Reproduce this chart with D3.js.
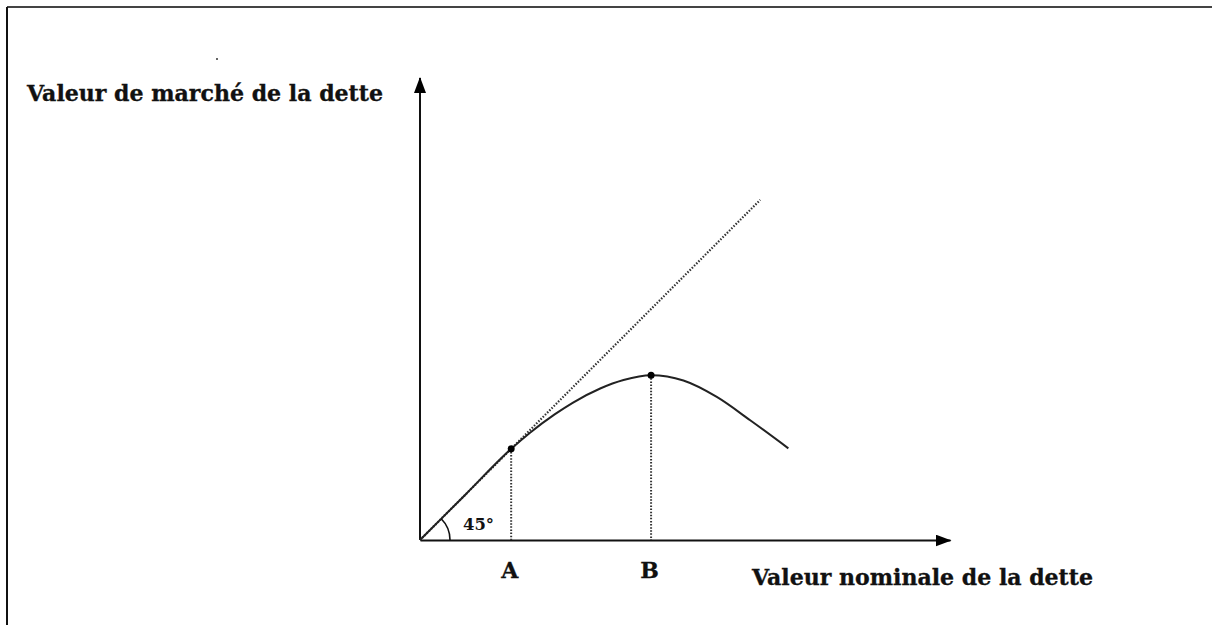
<!DOCTYPE html>
<html><head><meta charset="utf-8">
<script src="https://cdn.jsdelivr.net/npm/d3@7"></script>
<style>
html,body{margin:0;padding:0;background:#fff;}
svg{display:block;}
text{font-family:"DejaVu Serif",serif;font-weight:bold;fill:#111;}
</style></head>
<body>
<svg id="c" width="1212" height="625"></svg>
<script>
// ---- data (arbitrary units of nominal / market value) ----
const curveX = [0, 8.6, 17.2, 20.7, 25.4, 28.8, 34.0, 38.4, 43.6, 49.7, 56.0, 62.3, 69.5];
const curveY = [0, 8.6, 17.2, 20.2, 23.7, 25.9, 28.6, 30.2, 31.1, 30.1, 27.0, 22.6, 17.3];
const diagonal = [0, 64.2];           // 45° line, x = y
const pointNames = ["A", "B"];
const pointX = [17.2, 43.6];
const pointY = [17.2, 31.1];
const yTitle = "Valeur de marché de la dette";
const xTitle = "Valeur nominale de la dette";
const angleLabel = "45°";

const svg = d3.select("#c");
const x = d3.scaleLinear().domain([0, 100]).range([420, 950]);
const y = d3.scaleLinear().domain([0, 87.2]).range([540, 78]);

// frame
svg.append("line").attr("x1", 7).attr("y1", 7).attr("x2", 1212).attr("y2", 7)
  .attr("stroke", "#444").attr("stroke-width", 2);
svg.append("line").attr("x1", 7).attr("y1", 7).attr("x2", 7).attr("y2", 625)
  .attr("stroke", "#111").attr("stroke-width", 2);
svg.append("circle").attr("cx", 217).attr("cy", 59).attr("r", 1).attr("fill", "#333");

// arrow marker
const defs = svg.append("defs");
defs.append("marker").attr("id", "arr").attr("viewBox", "0 0 16 12")
  .attr("refX", 15).attr("refY", 6).attr("markerWidth", 16).attr("markerHeight", 12)
  .attr("markerUnits", "userSpaceOnUse").attr("orient", "auto")
  .append("path").attr("d", "M0,0L16,6L0,12Z").attr("fill", "#000");

// x axis via d3.axisBottom with A and B as tick labels
const xAxis = d3.axisBottom(x).tickValues(pointX).tickFormat((d, i) => pointNames[i])
  .tickSize(0).tickSizeOuter(0).tickPadding(22);
const gx = svg.append("g").attr("transform", `translate(0,${y(0)})`).call(xAxis);
gx.select(".domain").attr("stroke", "#111").attr("stroke-width", 2).attr("marker-end", "url(#arr)");
gx.selectAll(".tick text").attr("font-size", 22).attr("font-family", "DejaVu Serif")
  .attr("font-weight", "bold").attr("fill", "#111").attr("stroke", "#111").attr("stroke-width", 0.3)
  .attr("dx", -2);

// y axis
const yAxis = d3.axisLeft(y).tickValues([]).tickSize(0).tickSizeOuter(0);
const gy = svg.append("g").attr("transform", `translate(${x(0)},0)`).call(yAxis);
gy.select(".domain").attr("d", `M0,${y(0)}V${y(87.2)}`)
  .attr("stroke", "#111").attr("stroke-width", 2).attr("marker-end", "url(#arr)");

// 45° dotted line
svg.append("line")
  .attr("x1", x(diagonal[0])).attr("y1", y(diagonal[0]))
  .attr("x2", x(diagonal[1])).attr("y2", y(diagonal[1]))
  .attr("stroke", "#333").attr("stroke-width", 2.2).attr("stroke-dasharray", "1.5,1.6");

// curve
const line = d3.line().x(d => x(d[0])).y(d => y(d[1])).curve(d3.curveMonotoneX);
svg.append("path").datum(curveX.map((v, i) => [v, curveY[i]]))
  .attr("d", line).attr("fill", "none").attr("stroke", "#222").attr("stroke-width", 2);

// vertical dotted drops and points
pointX.forEach((px, i) => {
  svg.append("line").attr("x1", x(px)).attr("x2", x(px))
    .attr("y1", y(pointY[i])).attr("y2", y(0))
    .attr("stroke", "#333").attr("stroke-width", 2).attr("stroke-dasharray", "1.5,1.6");
  svg.append("circle").attr("cx", x(px)).attr("cy", y(pointY[i])).attr("r", 3.5).attr("fill", "#000");
});

// 45° arc
const arc = d3.arc().innerRadius(30).outerRadius(30).startAngle(Math.PI / 4).endAngle(Math.PI / 2);
svg.append("path").attr("d", arc()).attr("transform", `translate(${x(0)},${y(0)})`)
  .attr("fill", "none").attr("stroke", "#111").attr("stroke-width", 1.6);
svg.append("text").attr("x", 463).attr("y", 530).attr("font-size", 16)
  .attr("textLength", 31).attr("lengthAdjust", "spacingAndGlyphs").text(angleLabel);

// titles
svg.append("text").attr("x", 27).attr("y", 101).attr("font-size", 23)
  .attr("stroke", "#111").attr("stroke-width", 0.35)
  .attr("textLength", 356).attr("lengthAdjust", "spacingAndGlyphs").text(yTitle);
svg.append("text").attr("x", 752).attr("y", 585).attr("font-size", 23)
  .attr("stroke", "#111").attr("stroke-width", 0.35)
  .attr("textLength", 341).attr("lengthAdjust", "spacingAndGlyphs").text(xTitle);
</script>
</body></html>
